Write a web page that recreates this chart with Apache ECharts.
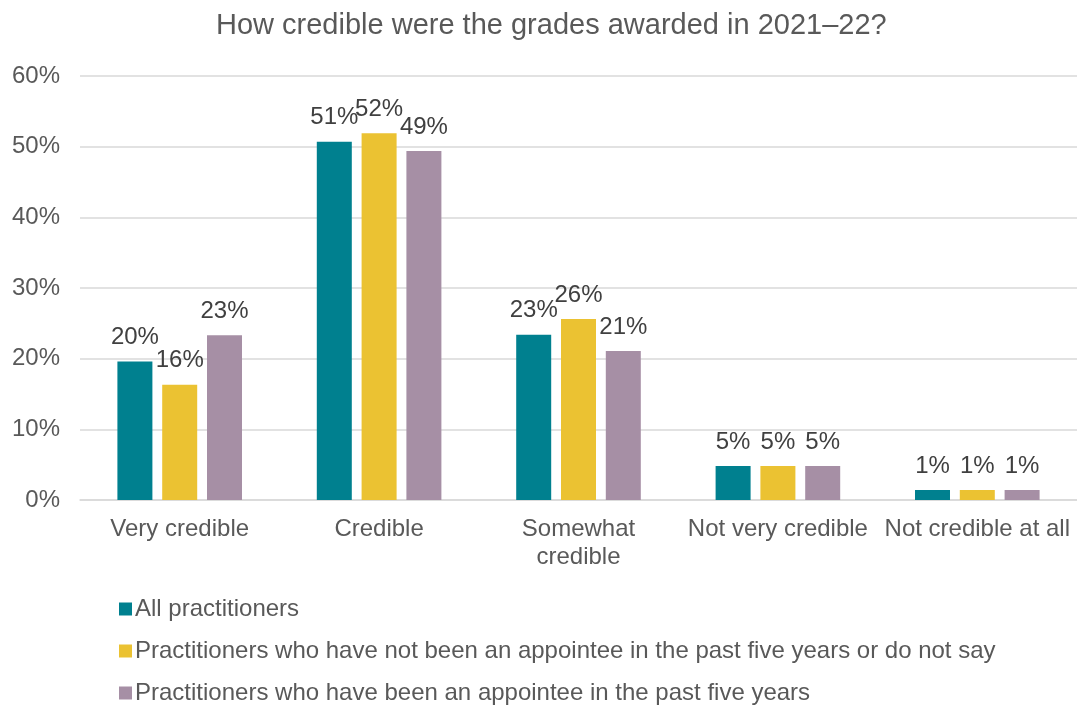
<!DOCTYPE html>
<html>
<head>
<meta charset="utf-8">
<script src="https://cdn.jsdelivr.net/npm/echarts@6/dist/echarts.min.js"></script>
<style>html,body{margin:0;padding:0;background:#fff;}#c{width:1077px;height:706px;}</style>
</head>
<body>
<div id="c"></div>
<script>
const categories = ['Very credible', 'Credible', 'Somewhat\ncredible', 'Not very credible', 'Not credible at all'];
const seriesNames = [
  'All practitioners',
  'Practitioners who have not been an appointee in the past five years or do not say',
  'Practitioners who have been an appointee in the past five years'
];
const allPractitioners = [19.6, 50.7, 23.4, 4.8, 1.4];
const notAppointee = [16.3, 51.9, 25.6, 4.8, 1.4];
const appointee = [23.3, 49.4, 21.1, 4.8, 1.4];
const yTicks = [0, 10, 20, 30, 40, 50, 60];
const colors = ['#00808F', '#EBC232', '#A68FA5'];

const font = '"Liberation Sans", Arial, sans-serif';
const chart = echarts.init(document.getElementById('c'));
const dataSets = [allPractitioners, notAppointee, appointee];
chart.setOption({
  animation: false,
  textStyle: { fontFamily: font },
  title: {
    text: 'How credible were the grades awarded in 2021\u201322?',
    left: 211, top: 6,
    textStyle: { fontFamily: font, fontSize: 29, fontWeight: 'normal', color: '#595959' }
  },
  legend: {
    orient: 'vertical',
    left: 114, top: 592, height: 130,
    itemWidth: 13, itemHeight: 13, itemGap: 18,
    icon: 'rect',
    textStyle: { fontFamily: font, fontSize: 24, color: '#595959', padding: [0,0,0,-2] },
    data: seriesNames
  },
  grid: { left: 80, right: 0, top: 76, bottom: 206 },
  xAxis: {
    type: 'category',
    data: categories,
    axisLine: { lineStyle: { color: '#d9d9d9', width: 1.5 } },
    axisTick: { show: false },
    axisLabel: { fontFamily: font, fontSize: 24, color: '#595959', margin: 15, lineHeight: 28, interval: 0 }
  },
  yAxis: {
    type: 'value',
    min: yTicks[0], max: yTicks[yTicks.length - 1], interval: 10,
    axisLine: { show: false },
    axisTick: { show: false },
    splitLine: { lineStyle: { color: '#d9d9d9', width: 1.5 } },
    axisLabel: { fontFamily: font, fontSize: 24, color: '#595959', margin: 20, formatter: v => v + '%' }
  },
  series: seriesNames.map((name, i) => ({
    name: name,
    type: 'bar',
    data: dataSets[i],
    barWidth: 35,
    barGap: '28%',
    itemStyle: { color: colors[i] },
    label: {
      show: true, position: 'top', distance: 12,
      fontFamily: font, fontSize: 24, color: '#404040',
      formatter: p => Math.round(p.value) + '%'
    }
  }))
});
</script>
</body>
</html>
